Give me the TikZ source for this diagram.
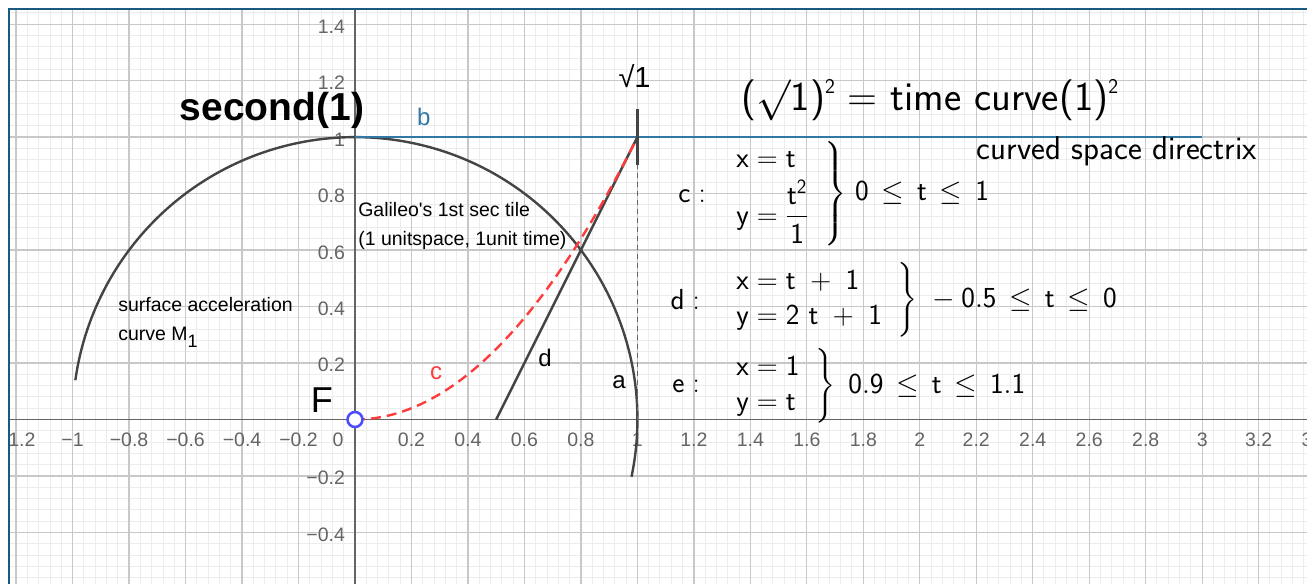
\RequirePackage{fix-cm}
\documentclass[tikz,border=0pt]{standalone}
\usepackage{amsmath}
\usepackage{fontspec}
\newfontfamily\geofont{Liberation Sans}

\definecolor{gridminor}{RGB}{236,236,236}
\definecolor{gridmajor}{RGB}{200,200,200}
\definecolor{axisgray}{RGB}{100,100,100}
\definecolor{curvegray}{RGB}{68,68,68}
\definecolor{lineblue}{RGB}{50,120,165}
\definecolor{frameblue}{RGB}{25,90,130}
\definecolor{parabred}{RGB}{255,60,60}
\definecolor{pointblue}{RGB}{77,77,255}

\newcommand{\sqtwo}{\raisebox{0.4em}{\fontsize{21}{21}\selectfont 2}}
\newcommand{\lle}{\,\leq\,}

\tikzset{
  curve/.style={draw=curvegray, line width=2.4pt},
  ticklbl/.style={font=\geofont\fontsize{19.5}{23}\selectfont, text=axisgray, inner sep=0pt},
  objlbl/.style={font=\geofont\fontsize{24}{28}\selectfont, inner sep=0pt},
  note/.style={font=\geofont\fontsize{19.5}{29}\selectfont, inner sep=0pt, align=left},
  formula/.style={font=\fontsize{29}{35}\selectfont, inner sep=0pt},
}

\begin{document}
\begin{tikzpicture}[x=282.4pt, y=282.4pt]
  \useasboundingbox (-1.2571,-0.5790) rectangle (3.3711,1.4855);

  % Grid and axes
  \begin{scope}
    \clip (-1.2217,-0.5790) rectangle (3.3711,1.4500);
    \draw[gridminor, line width=1pt] (-1.28,-0.6) grid[step=0.04] (3.4,1.52);
    \draw[gridmajor, line width=1.3pt] (-1.4,-0.6) grid[step=0.2] (3.4,1.6);
    \draw[axisgray, line width=1.5pt] (-1.3,0) -- (3.4,0);
    \draw[axisgray, line width=1.5pt] (0,-0.6) -- (0,1.5);
    \foreach \v/\t in {-1.2/{−1.2},-1/{−1},-0.8/{−0.8},-0.6/{−0.6},-0.4/{−0.4},-0.2/{−0.2},
                       0.2/0.2,0.4/0.4,0.6/0.6,0.8/0.8,1/1,1.2/1.2,1.4/1.4,1.6/1.6,1.8/1.8,
                       2/2,2.2/2.2,2.4/2.4,2.6/2.6,2.8/2.8,3/3,3.2/3.2,3.4/3.4}
      \node[ticklbl] at (\v,-0.0726) {\t};
    \node[ticklbl] at (-0.06,-0.0726) {0};
    \foreach \v/\t in {-0.4/{−0.4},-0.2/{−0.2},0.2/0.2,0.4/0.4,0.6/0.6,0.8/0.8,1/1,1.2/1.2,1.4/1.4}
      \node[ticklbl, anchor=east] at (-0.035,\v-0.008) {\t};
  \end{scope}
  \draw[frameblue, line width=2pt] (-1.2252,-0.6) -- (-1.2252,1.4525) -- (3.4,1.4525);

  % Points
  \coordinate (dstart) at (0.5,0);
  \coordinate (top) at (1,1);
  \coordinate (bstart) at (0,1);
  \coordinate (bend) at (3,1);
  \coordinate (elow) at (1,0.9);
  \coordinate (ehigh) at (1,1.1);
  \coordinate (foot) at (1,0);

  % Curves
  \draw[curve] (-11.7:1) arc[start angle=-11.7, end angle=172, radius=1];
  \draw[lineblue, line width=2pt] (bstart) -- (bend);
  \draw[axisgray, line width=1.2pt, dash pattern=on 5pt off 4pt] (top) -- (foot);
  \draw[curve] (dstart) -- (top);
  \draw[parabred, line width=2.4pt, dash pattern=on 10pt off 6pt]
    plot[domain=0:1, samples=60] (\x,{\x*\x});
  \draw[curve] (elow) -- (ehigh);
  \node[circle, draw=pointblue, fill=white, line width=2.6pt, minimum size=15pt, inner sep=0pt] (F) at (0,0) {};

  % Labels
  \node[font=\geofont\fontsize{36}{40}\selectfont, inner sep=0pt] (Flbl) at (-0.117,0.069) {F};
  \node[objlbl, text=lineblue] (blbl) at (0.244,1.071) {b};
  \node[objlbl, text=parabred] (clbl) at (0.287,0.165) {c};
  \node[objlbl] (dlbl) at (0.673,0.218) {d};
  \node[objlbl] (albl) at (0.935,0.133) {a};
  \node[font=\geofont\fontsize{29}{33}\selectfont, inner sep=0pt] (rootlbl) at (0.99,1.216) {√1};
  \node[font=\geofont\bfseries\fontsize{39}{44}\selectfont, inner sep=0pt] (second) at (-0.294,1.096) {second(1)};
  \node[font=\sffamily\fontsize{41}{48}\selectfont, inner sep=0pt] (title) at (2.036,1.131)
    {($\surd$1)\sqtwo{} = time curve(1)\sqtwo};
  \node[font=\sffamily\fontsize{33}{38}\selectfont, inner sep=0pt] (directrix) at (2.698,0.951)
    {curved space directrix};
  \node[note, anchor=north west] (galileo) at (0.011,0.768)
    {Galileo's 1st sec tile\\(1 unitspace, 1unit time)};
  \node[note, anchor=north west] (surface) at (-0.839,0.433)
    {surface acceleration\\curve M\raisebox{-7pt}{\fontsize{18}{20}\selectfont 1}};

  % Equations
  \node[formula, anchor=east] (cname) at (1.243,0.791) {$\mathsf{c}:$};
  \node[formula, anchor=west] (ceq) at (1.3456,0.800)
    {$\left.\begin{array}{@{}l@{\hspace{16pt}}}\mathsf{x}=\mathsf{t}\\[2pt]\mathsf{y}=\dfrac{\mathsf{t}^{\mathsf{2}}}{\mathsf{1}}\end{array}\right\}\hspace{4pt}\mathsf{0}\lle\mathsf{t}\lle\mathsf{1}$};
  \node[formula, anchor=east] (dname) at (1.222,0.423) {$\mathsf{d}:$};
  \node[formula, anchor=west] (deq) at (1.3456,0.423)
    {$\left.\begin{array}{@{}l@{\hspace{16pt}}}\mathsf{x}=\mathsf{t}\;+\;\mathsf{1}\\\mathsf{y}=\mathsf{2}\hspace{9pt}\mathsf{t}\;+\;\mathsf{1}\end{array}\right\}\hspace{8pt}-\mathsf{0.5}\lle\mathsf{t}\lle\mathsf{0}$};
  \node[formula, anchor=east] (ename) at (1.222,0.119) {$\mathsf{e}:$};
  \node[formula, anchor=west] (eeq) at (1.3456,0.119)
    {$\left.\begin{array}{@{}l@{\hspace{16pt}}}\mathsf{x}=\mathsf{1}\\\mathsf{y}=\mathsf{t}\end{array}\right\}\hspace{8pt}\mathsf{0.9}\lle\mathsf{t}\lle\mathsf{1.1}$};
\end{tikzpicture}
\end{document}
